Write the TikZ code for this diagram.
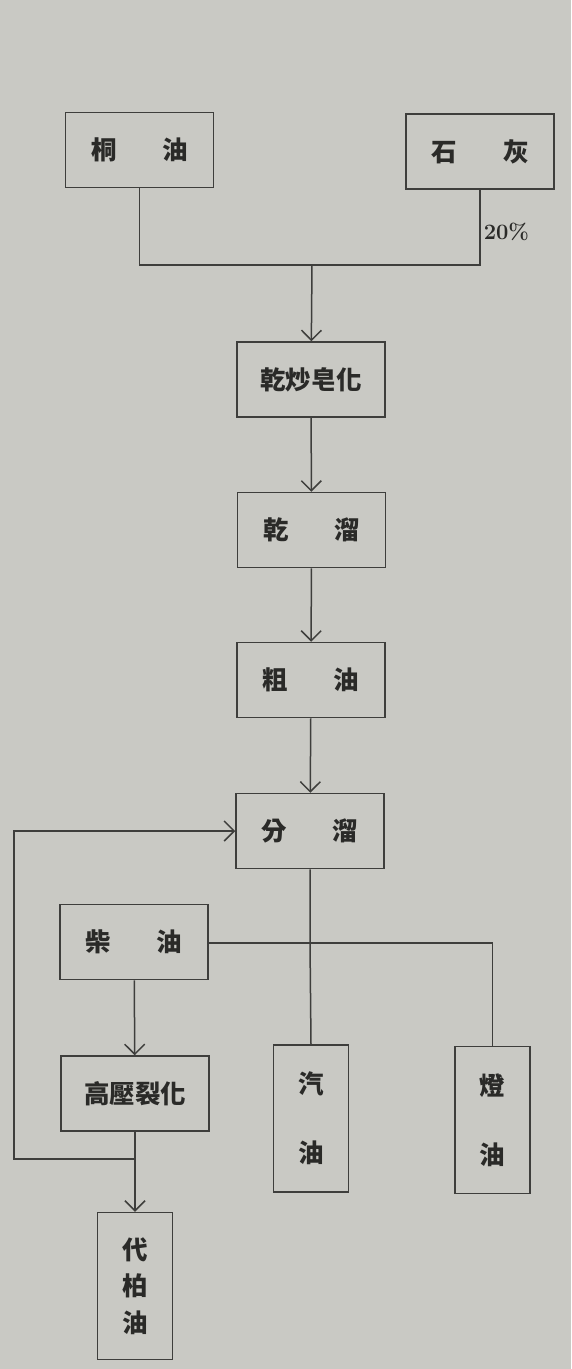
\documentclass[tikz,border=0pt]{standalone}
\usepackage{fontspec}
\newfontfamily\cjk{Noto Sans CJK TC}
\usepackage{tikz}
\usetikzlibrary{arrows.meta, positioning}
\definecolor{Paper}{RGB}{201,201,196}
\definecolor{Ink}{RGB}{62,62,60}
\definecolor{Type}{RGB}{42,42,40}

\begin{document}
\begin{tikzpicture}[x=0.2mm, y=-0.2mm,
		>={Straight Barb[length=2mm, width=4mm]},
		every path/.style={draw=Ink, line width=0.3mm},
		every node/.style={text=Type, font=\cjk\bfseries\fontsize{14.5}{16}\selectfont},
		wbox/.style={draw, inner sep=0pt, minimum width=29.6mm, minimum height=15mm},
		tbox/.style={draw, inner sep=0pt, minimum width=15mm, minimum height=29.4mm, align=center},
		]
	\fill[Paper, draw=none] (0,0) rectangle (571,1369);
	% raw materials
	\node[wbox] (tung) at (139.5,150) {桐\hspace{9.2mm}油};
	\node[wbox] (lime) at (480,151.5) {石\hspace{9.2mm}灰};
	\coordinate (j1) at (312,265);
	\draw (tung.south) |- (j1) -| (lime.south);
	\node[anchor=west, inner sep=0pt, font=\bfseries\fontsize{12.5}{15}\selectfont] (pct) at (483,232) {20\%};
	% main line
	\node[wbox] (sapon) at (311,379.5) {乾炒皂化};
	\node[wbox] (dry) at (311.5,530) {乾\hspace{9.2mm}溜};
	\node[wbox] (crude) at (311,680) {粗\hspace{9.2mm}油};
	\node[wbox] (frac) at (310,831) {分\hspace{9.2mm}溜};
	\draw[->] (j1) -- (sapon);
	\draw[->] (sapon) -- (dry);
	\draw[->] (dry) -- (crude);
	\draw[->] (crude) -- (frac);
	% fractions
	\node[wbox] (diesel) at (134,942) {柴\hspace{9.2mm}油};
	\node[tbox] (petrol) at (311,1118.5) {汽\\[8.2mm]油};
	\node[tbox] (kero) at (492.5,1120) {燈\\[8.2mm]油};
	\coordinate (j2) at (310,943);
	\draw (frac) -- (j2) -- (petrol.north);
	\draw (diesel.east |- j2) -- (kero |- j2) -- (kero.north);
	% cracking
	\node[wbox] (crack) at (135,1093.5) {高壓裂化};
	\node[tbox, font=\cjk\bfseries\fontsize{14.5}{7.3mm}\selectfont] (tar) at (135,1286) {代\\柏\\油};
	\draw[->] (diesel) -- (crack);
	\draw[->] (crack) -- (tar);
	\coordinate (j3) at (134,1159);
	\coordinate (turn) at (14,1159);
	\draw[->] (j3) -- (turn) |- (frac.west);
\end{tikzpicture}
\end{document}
